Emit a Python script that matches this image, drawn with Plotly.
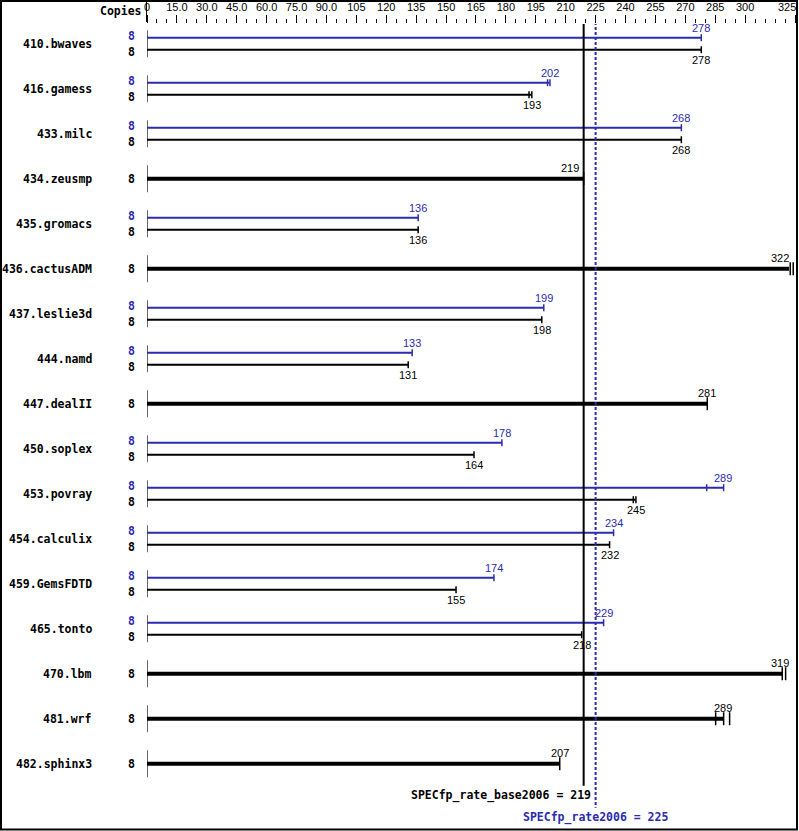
import plotly.graph_objects as go

# ---------------- data ----------------
benchmarks = ["410.bwaves", "416.gamess", "433.milc", "434.zeusmp", "435.gromacs",
              "436.cactusADM", "437.leslie3d", "444.namd", "447.dealII", "450.soplex",
              "453.povray", "454.calculix", "459.GemsFDTD", "465.tonto", "470.lbm",
              "481.wrf", "482.sphinx3"]
copies_peak = [8, 8, 8, None, 8, None, 8, 8, None, 8, 8, 8, 8, 8, None, None, None]
copies_base = [8, 8, 8, 8, 8, 8, 8, 8, 8, 8, 8, 8, 8, 8, 8, 8, 8]
peak_ratio = [278, 202, 268, None, 136, None, 199, 133, None, 178, 289, 234, 174, 229,
              None, None, None]
base_ratio = [278, 193, 268, 219, 136, 322, 198, 131, 281, 164, 245, 232, 155, 218,
              319, 289, 207]
peak_runs = [[278], [200.9, 202.1], [268], None, [136], None, [199], [133], None, [178],
             [280.7, 289.2], [234], [174], [229], None, None, None]
base_runs = [[278], [191.6, 193], [268], [219], [136], [322.6, 324.1], [198], [131],
             [281], [164], [243.9, 245.2], [232], [155], [218], [318.6, 320.3],
             [285.2, 289.2, 292.2], [207]]
tick_vals = [0, 15, 30, 45, 60, 75, 90, 105, 120, 135, 150, 165, 180, 195, 210, 225,
             240, 255, 270, 285, 300, 325]
tick_text = ["0", "15.0", "30.0", "45.0", "60.0", "75.0", "90.0", "105", "120", "135",
             "150", "165", "180", "195", "210", "225", "240", "255", "270", "285",
             "300", "325"]
base_mean = 219
peak_mean = 225
base_label = "SPECfp_rate_base2006 = 219"
peak_label = "SPECfp_rate2006 = 225"

# ---------------- styling ----------------
BLUE = "#2b2bb0"
BLACK = "#000000"
MONO = "DejaVu Sans Mono"
SANS = "Liberation Sans"
ROW = 45.0  # pixels per row unit

L, R, T, B = 147, 2, 24, 2
W, H = 799, 831
pw, ph = W - L - R, H - T - B
XMAX = 326
PX = pw / XMAX  # pixels per unit on x

fig = go.Figure()


def seg(xs, ys, color, width, dash=None):
    fig.add_trace(go.Scatter(x=xs, y=ys, mode="lines",
                             line=dict(color=color, width=width, dash=dash),
                             hoverinfo="skip", showlegend=False))


def value_label(v, y, color, above, yshift):
    ann = dict(x=v, y=y, xref="x", yref="y", text=str(v), showarrow=False,
               yanchor="bottom" if above else "top", yshift=yshift,
               font=dict(family=SANS, size=11, color=color))
    right_edge = v * PX + 9
    if right_edge > pw - 6:  # keep label inside the frame
        ann.update(xanchor="right", xshift=(pw - 6) - v * PX)
    elif above and abs(v - base_mean) < 3:  # keep clear of the mean line
        ann.update(xanchor="right", xshift=-3)
    return ann


annotations = []
for i, name in enumerate(benchmarks):
    dual = peak_ratio[i] is not None
    # row marker at x = 0
    seg([0, 0], [i - 13.5 / ROW, i + 13.5 / ROW], BLACK, 1.2)
    annotations.append(dict(x=0, y=i, xref="x", yref="y", text=name, showarrow=False,
                            xanchor="right", xshift=-53,
                            font=dict(family=MONO, size=11.5, color=BLACK, weight="bold")))
    if dual:
        yb = i - 6 / ROW
        yk = i + 6 / ROW
        half = 3.5 / ROW
        # peak bar
        seg([0, peak_ratio[i]], [yb, yb], BLUE, 2)
        for r in peak_runs[i]:
            seg([r, r], [yb - half, yb + half], BLUE, 1.5)
        annotations.append(value_label(peak_ratio[i], yb, BLUE, True, 2))
        annotations.append(dict(x=0, y=yb, xref="x", yref="y", text=str(copies_peak[i]),
                                showarrow=False, xshift=-16, yshift=2,
                                font=dict(family=MONO, size=11.5, color=BLUE, weight="bold")))
        # base bar
        seg([0, base_ratio[i]], [yk, yk], BLACK, 2)
        for r in base_runs[i]:
            seg([r, r], [yk - half, yk + half], BLACK, 1.5)
        annotations.append(value_label(base_ratio[i], yk, BLACK, False, -2))
        annotations.append(dict(x=0, y=yk, xref="x", yref="y", text=str(copies_base[i]),
                                showarrow=False, xshift=-16, yshift=-2,
                                font=dict(family=MONO, size=11.5, color=BLACK, weight="bold")))
    else:
        yk = i
        half = 6.5 / ROW
        seg([0, base_ratio[i]], [yk, yk], BLACK, 4)
        for r in base_runs[i]:
            seg([r, r], [yk - half, yk + half], BLACK, 1.5)
        annotations.append(value_label(base_ratio[i], yk, BLACK, True, 3))
        annotations.append(dict(x=0, y=yk, xref="x", yref="y", text=str(copies_base[i]),
                                showarrow=False, xshift=-16,
                                font=dict(family=MONO, size=11.5, color=BLACK, weight="bold")))

# summary lines
seg([base_mean, base_mean], [-0.48, 16.49], BLACK, 2)
seg([peak_mean, peak_mean], [-0.48, 16.98], BLUE, 2, dash="3px,2px")

annotations.append(dict(x=base_mean, y=16.70, xref="x", yref="y", text=base_label,
                        showarrow=False, xanchor="right", xshift=9,
                        font=dict(family=MONO, size=11.5, color=BLACK, weight="bold")))
annotations.append(dict(x=peak_mean, y=17.19, xref="x", yref="y", text=peak_label,
                        showarrow=False, xanchor="center",
                        font=dict(family=MONO, size=11.5, color=BLUE, weight="bold")))
annotations.append(dict(x=0, y=1, xref="paper", yref="paper", text="Copies",
                        showarrow=False, xanchor="right", yanchor="bottom",
                        xshift=-3, yshift=4,
                        font=dict(family=MONO, size=11.5, color=BLACK, weight="bold")))
# last axis label (placed manually so it stays inside the frame)
annotations.append(dict(x=tick_vals[-1], y=1, xref="x", yref="paper", text=tick_text[-1],
                        showarrow=False, xanchor="right", yanchor="bottom",
                        xshift=3, yshift=9,
                        font=dict(family=SANS, size=11, color=BLACK)))
axis_text = tick_text[:-1] + [""]

shapes = [
    # outer frame
    dict(type="rect", xref="paper", yref="paper",
         x0=-(L - 1) / pw, x1=1.0, y0=-(0.5) / ph, y1=1 + (T - 1) / ph,
         line=dict(color=BLACK, width=2), layer="above"),
    # separator after "Copies"
    dict(type="line", xref="paper", yref="paper",
         x0=-0.5 / pw, x1=-0.5 / pw, y0=1 + (T - 1) / ph, y1=1 + 2 / ph,
         line=dict(color=BLACK, width=1)),
]

fig.update_layout(
    width=W, height=H,
    margin=dict(l=L, r=R, t=T, b=B, pad=0),
    paper_bgcolor="white", plot_bgcolor="white",
    showlegend=False,
    annotations=annotations,
    shapes=shapes,
    xaxis=dict(side="top", range=[0, XMAX], tickmode="array", tickvals=tick_vals,
               ticktext=axis_text, ticks="outside", ticklen=8, tickwidth=1,
               tickcolor=BLACK, showgrid=False, zeroline=False, showline=False,
               tickfont=dict(family=SANS, size=11, color=BLACK),
               minor=dict(ticks="outside", dtick=5, tick0=0, ticklen=4,
                          tickwidth=1, tickcolor=BLACK, showgrid=False),
               fixedrange=True),
    yaxis=dict(range=[17.451, -0.438], visible=False, fixedrange=True),
)

fig.write_html("out.html", config={"displayModeBar": False},
               post_script="document.body.style.margin='0';document.body.style.overflow='hidden';")
